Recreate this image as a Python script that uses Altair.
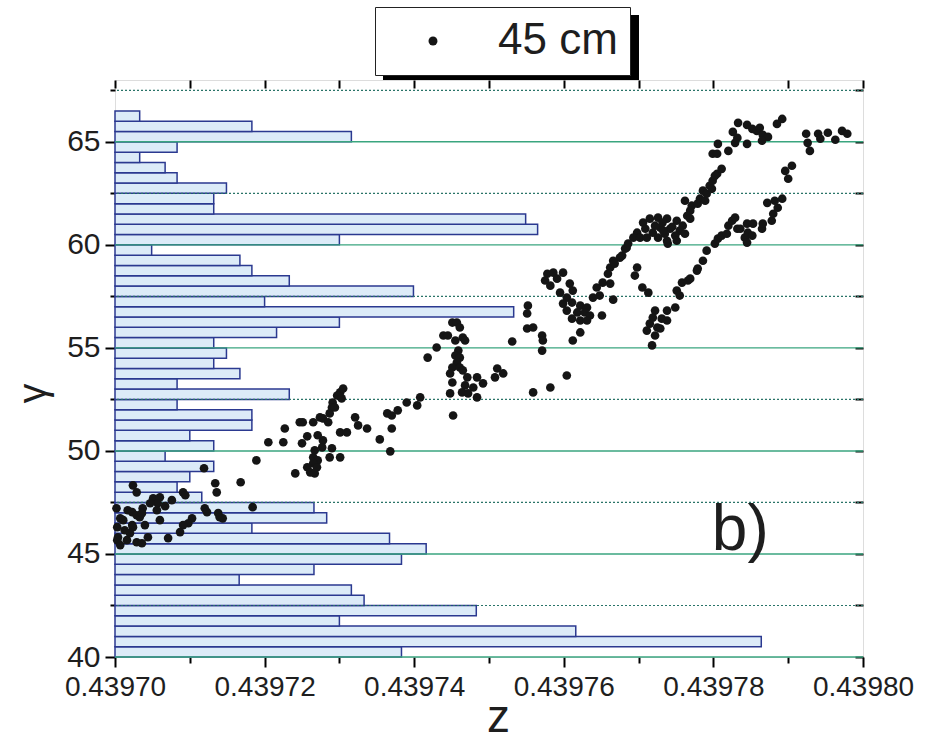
import altair as alt
import pandas as pd

Z0 = 0.43970      # left end of the z axis
ZU = 1e-5         # unit used for the offsets below

# ---- histogram (bin width 0.5 in gamma, bar length as z offset in 1e-5) ----
hist_bin_width = 0.5
hist_first_edge = 40.0
hist_len = [3.83, 8.64, 6.16, 3.00, 4.83, 3.33, 3.16, 1.66, 2.66, 3.83,
            4.16, 3.67, 1.83, 2.83, 2.66, 1.16, 0.83, 1.00, 1.32, 0.67,
            1.32, 1.00, 1.83, 1.83, 0.83, 2.33, 0.83, 1.67, 1.32, 1.49,
            1.32, 2.16, 3.00, 5.33, 2.00, 3.99, 2.33, 1.83, 1.67, 0.49,
            3.00, 5.65, 5.49, 1.32, 1.32, 1.49, 0.83, 0.67, 0.33, 0.83,
            3.16, 1.83, 0.33]

# ---- scatter "45 cm" : (z offset in 1e-5, gamma) ----
cluster_a = [(1.19, 49.16), (1.34, 48.43), (1.36, 47.99), (1.68, 48.48), (0.24, 48.33),
             (0.29, 47.99), (0.91, 47.99), (0.94, 47.85), (0.51, 47.70), (0.60, 47.75),
             (0.57, 47.46), (0.47, 47.46), (0.37, 47.22), (0.56, 47.12), (0.17, 47.12),
             (0.23, 47.03), (0.29, 46.88), (0.33, 46.78), (0.36, 46.98), (0.07, 46.73),
             (0.11, 46.64), (0.02, 47.22), (1.20, 47.22), (1.23, 47.03), (1.38, 46.98),
             (1.40, 46.78), (1.44, 46.73), (1.84, 47.27), (1.03, 46.73), (0.98, 46.49),
             (0.91, 46.40), (0.87, 46.06), (0.03, 46.30), (0.23, 46.40), (0.24, 46.30),
             (0.04, 45.81), (0.16, 45.67), (0.29, 45.57), (0.36, 45.52), (0.44, 45.81),
             (0.71, 45.77), (0.03, 45.67), (0.20, 46.01), (1.89, 49.54), (0.67, 47.32),
             (0.76, 47.61), (0.13, 46.15), (0.07, 45.43), (0.40, 46.40), (0.60, 46.64)]
cluster_b = [(3.01, 52.84), (2.97, 52.69), (2.91, 52.35), (2.90, 52.11), (2.87, 51.82),
             (2.74, 51.63), (2.78, 51.58), (2.85, 51.39), (2.65, 51.39), (2.47, 51.39),
             (2.51, 51.39), (3.21, 51.63), (3.25, 51.24), (3.37, 51.09), (3.01, 50.90),
             (3.10, 50.90), (3.64, 51.82), (3.70, 51.72), (3.78, 51.97), (3.90, 52.35),
             (4.04, 52.21), (4.08, 52.60), (3.70, 51.09), (3.54, 50.56), (3.68, 49.98),
             (2.27, 51.09), (2.05, 50.42), (2.25, 50.42), (2.57, 50.71), (2.50, 50.37),
             (2.71, 50.76), (2.78, 50.51), (2.77, 50.17), (2.67, 50.03), (2.90, 50.13),
             (2.87, 49.69), (3.01, 49.69), (2.65, 49.69), (2.71, 49.54), (2.65, 49.40),
             (2.57, 49.21), (2.70, 49.21), (2.61, 48.96), (2.67, 48.91), (2.41, 48.91),
             (3.03, 52.55), (2.94, 52.11), (3.05, 53.03)]
cluster_c = [(4.51, 56.23), (4.57, 56.23), (4.61, 55.99), (4.39, 55.60), (4.45, 55.60),
             (4.65, 55.50), (4.68, 55.36), (4.55, 55.36), (4.30, 55.02), (4.59, 54.87),
             (4.55, 54.63), (4.61, 54.53), (4.18, 54.53), (4.57, 54.29), (4.51, 54.05),
             (4.61, 54.05), (4.65, 53.91), (4.48, 53.76), (4.71, 53.57), (4.84, 53.57),
             (4.51, 53.32), (4.68, 53.18), (4.79, 53.08), (4.64, 52.84), (4.72, 52.79),
             (4.84, 52.60), (4.48, 52.79), (4.52, 51.72), (4.92, 53.28), (5.08, 53.57),
             (5.11, 54.00), (5.19, 53.76), (5.31, 55.31), (5.52, 57.05), (5.51, 56.67),
             (5.51, 55.94), (5.59, 55.99), (5.71, 55.60), (5.72, 55.36), (5.71, 54.87),
             (5.59, 52.84), (5.82, 53.08), (6.04, 53.66)]
cluster_d = [(5.78, 58.60), (5.86, 58.65), (5.99, 58.65), (5.75, 58.27), (5.91, 58.36),
             (5.82, 58.02), (6.08, 58.12), (6.12, 57.78), (5.95, 57.68), (6.04, 57.44),
             (6.44, 57.93), (6.52, 58.17), (6.62, 58.12), (6.48, 57.54), (6.39, 57.44),
             (6.66, 57.34), (5.99, 57.15), (6.11, 57.20), (6.22, 57.05), (6.31, 56.96),
             (6.04, 56.81), (6.18, 56.72), (6.28, 56.72), (6.35, 56.57), (6.11, 56.42),
             (6.22, 56.33), (6.31, 56.33), (6.51, 56.57), (6.22, 55.75), (6.12, 55.36)]
upper_branch = [(6.84, 59.86), (6.75, 59.38), (6.66, 59.23), (6.62, 58.90), (6.59, 58.60),
                (6.68, 59.09), (6.78, 59.48), (6.82, 59.82), (6.86, 60.06), (6.98, 58.90),
                (6.95, 58.51), (7.06, 61.08), (7.15, 61.27), (7.26, 61.32), (7.38, 61.27),
                (7.51, 61.17), (7.59, 60.93), (7.29, 60.83), (7.42, 60.78), (7.55, 60.69),
                (7.19, 60.59), (7.35, 60.54), (7.49, 60.45), (6.98, 60.59), (6.93, 60.35),
                (7.02, 60.35), (7.11, 60.35), (7.26, 60.35), (7.38, 60.20), (7.51, 60.20),
                (7.39, 60.06), (7.62, 62.14), (7.71, 61.90), (7.69, 61.66), (7.65, 61.41),
                (7.69, 61.27), (7.79, 62.00), (7.82, 62.24), (7.89, 62.14), (7.86, 62.63),
                (7.91, 62.48), (7.95, 62.87), (7.98, 62.72), (7.99, 63.11), (8.05, 63.45),
                (8.11, 63.69), (8.02, 63.35), (7.22, 60.93), (7.33, 60.69), (7.45, 60.88),
                (7.09, 60.78), (7.62, 60.54), (7.32, 61.08)]
upper_top = [(8.92, 66.11), (8.85, 65.87), (8.33, 65.92), (8.45, 65.82), (8.26, 65.48),
             (8.52, 65.63), (8.58, 65.53), (8.62, 65.68), (8.66, 65.34), (8.73, 65.24),
             (8.32, 65.19), (8.29, 64.95), (8.45, 64.90), (8.65, 65.05), (8.06, 64.90),
             (8.20, 64.56), (7.99, 64.42), (8.05, 64.42)]
lower_branch = [(7.05, 57.93), (7.13, 57.68), (7.51, 57.78), (7.58, 58.17), (7.66, 58.27),
                (7.78, 58.75), (7.55, 57.54), (7.49, 56.96), (7.38, 56.81), (7.22, 56.81),
                (7.19, 56.47), (7.31, 56.42), (7.38, 56.33), (7.15, 56.18), (7.25, 55.99),
                (7.29, 55.94), (7.11, 55.84), (7.22, 55.60), (7.18, 55.12), (7.69, 58.36),
                (7.79, 58.85), (7.86, 59.23), (7.91, 59.72), (8.02, 60.06), (8.06, 60.30),
                (8.11, 60.45), (8.18, 60.54), (8.20, 60.93), (8.25, 61.17), (8.29, 61.32),
                (8.32, 60.78), (8.36, 60.78), (8.42, 60.35), (8.45, 60.11), (8.46, 60.59),
                (8.52, 60.45), (8.45, 61.03), (8.53, 61.03), (8.65, 60.78), (8.66, 61.03),
                (8.78, 61.17), (8.80, 61.51), (8.86, 61.80), (8.72, 62.04), (8.82, 62.14),
                (8.92, 62.24), (8.96, 63.59), (9.00, 63.21), (9.05, 63.84)]
lower_top = [(9.24, 65.39), (9.40, 65.39), (9.53, 65.44), (9.72, 65.53), (9.79, 65.39),
             (9.43, 65.15), (9.63, 65.10), (9.26, 64.95), (9.29, 64.56)]

series_name = "45 cm"
grid_major = [40, 45, 50, 55, 60, 65]
grid_minor = [42.5, 47.5, 52.5, 57.5, 62.5, 67.5]
x_ticks = [round(Z0 + i * ZU, 6) for i in range(11)]
y_ticks = [40 + 2.5 * i for i in range(12)]
annot = {"u": [8.36], "g": [45.18], "t": ["b)"]}

FONT = "Liberation Sans"
INK = "#1e1e1e"

# ---- tables ----
n = len(hist_len)
lo = [hist_first_edge + hist_bin_width * i for i in range(n)]
bars = pd.DataFrame({
    "g0": lo,
    "g1": [g + hist_bin_width for g in lo],
    "z0": [Z0] * n,
    "z1": [Z0 + l * ZU for l in hist_len],
})
all_pts = cluster_a + cluster_b + cluster_c + cluster_d + upper_branch + upper_top + lower_branch + lower_top
pts = pd.DataFrame({
    "z": [Z0 + u * ZU for u, _ in all_pts],
    "g": [g for _, g in all_pts],
    "series": series_name,
})
ann = pd.DataFrame({"z": [Z0 + u * ZU for u in annot["u"]], "g": annot["g"], "t": annot["t"]})

xs = alt.Scale(domain=[0.43970, 0.43980], nice=False, zero=False)
ys = alt.Scale(domain=[40, 68], nice=False, zero=False)

bottom_axis = alt.Axis(
    values=x_ticks, labelOverlap=False, labelFlush=False, labelBound=False,
    labelExpr="round(datum.value*100000) % 2 == 0 ? format(datum.value, '.5f') : ''",
    tickSize={"condition": {"test": "round(datum.value*100000) % 2 == 1", "value": 6}, "value": 10},
    tickWidth=2, tickColor="black", domain=False, grid=False,
    labelFont=FONT, labelFontSize=28, labelColor=INK, labelPadding=6,
    title="z", titleFont=FONT, titleFontSize=46, titleFontWeight="normal", titleColor=INK,
    titleX=383, titleY=74, titleAlign="center", titleBaseline="alphabetic",
)
left_axis = alt.Axis(
    values=y_ticks, labelOverlap=False, labelFlush=False,
    labelExpr="datum.value % 5 == 0 ? datum.label : ''",
    tickSize={"condition": {"test": "datum.value % 5 != 0", "value": 5}, "value": 10},
    tickWidth=2, tickColor="black", domain=False, grid=False,
    labelFont=FONT, labelFontSize=30, labelColor=INK, labelPadding=5,
    title="γ", titleFont=FONT, titleFontSize=40, titleFontWeight="normal", titleColor=INK,
    titleAngle=270, titleX=-82, titleY=313, titleAlign="center", titleBaseline="middle",
)
top_axis = alt.Axis(orient="top", values=x_ticks, labels=False, tickSize=8, offset=-8,
                    tickWidth=2, tickColor="black", domain=False, grid=False, title=None)
right_axis = alt.Axis(orient="right", values=y_ticks, labels=False, tickSize=8, offset=-8,
                      tickWidth=2, tickColor="black", domain=False, grid=False, title=None)

bar_layer = alt.Chart(bars).mark_rect(fill="#dcebf8", stroke="#2b3990", strokeWidth=1.5).encode(
    x=alt.X("z0:Q", scale=xs, axis=bottom_axis),
    x2="z1",
    y=alt.Y("g0:Q", scale=ys, axis=left_axis),
    y2="g1",
)
major_layer = alt.Chart(pd.DataFrame({"g": grid_major})).mark_rule(color="#3aa57f", strokeWidth=1.4).encode(
    y=alt.Y("g:Q", scale=ys, axis=None)
)
minor_layer = alt.Chart(pd.DataFrame({"g": grid_minor})).mark_rule(color="#2a7468", strokeWidth=1.2, strokeDash=[2, 2]).encode(
    y=alt.Y("g:Q", scale=ys, axis=None)
)
point_layer = alt.Chart(pts).mark_circle(size=75, opacity=1).encode(
    x=alt.X("z:Q", scale=xs, axis=None),
    y=alt.Y("g:Q", scale=ys, axis=None),
    color=alt.Color("series:N", scale=alt.Scale(range=["#151515"]), legend=alt.Legend(
        orient="none", legendX=260, legendY=-73, title=None,
        fillColor="white", strokeColor="#222222", padding=12,
        symbolType="circle", symbolSize=80, symbolOffset=24, labelOffset=43,
        labelFont=FONT, labelFontSize=44, labelColor=INK,
    )),
)
frame_layer = alt.Chart(bars).mark_point(opacity=0).encode(
    x=alt.X("z0:Q", scale=xs, axis=top_axis),
    y=alt.Y("g0:Q", scale=ys, axis=right_axis),
)
text_layer = alt.Chart(ann).mark_text(font=FONT, fontSize=64, align="center", baseline="alphabetic", color=INK).encode(
    x=alt.X("z:Q", scale=xs, axis=None),
    y=alt.Y("g:Q", scale=ys, axis=None),
    text="t:N",
)
shadow_layer = alt.Chart(pd.DataFrame({"k": [0]})).mark_rect(color="black").encode(
    x=alt.value(268), x2=alt.value(524), y=alt.value(-65), y2=alt.value(0)
)

chart = alt.layer(
    shadow_layer, bar_layer, major_layer, minor_layer, point_layer, frame_layer, text_layer
).resolve_axis(x="independent", y="independent").properties(
    width=748, height=577,
    padding={"left": 115, "top": 80, "right": 72, "bottom": 87},
    autosize=alt.AutoSizeParams(type="none"),
).configure_view(stroke="black", strokeWidth=2.5).configure(background="white")

chart.save("out.html", embed_options={"renderer": "svg", "actions": False})
